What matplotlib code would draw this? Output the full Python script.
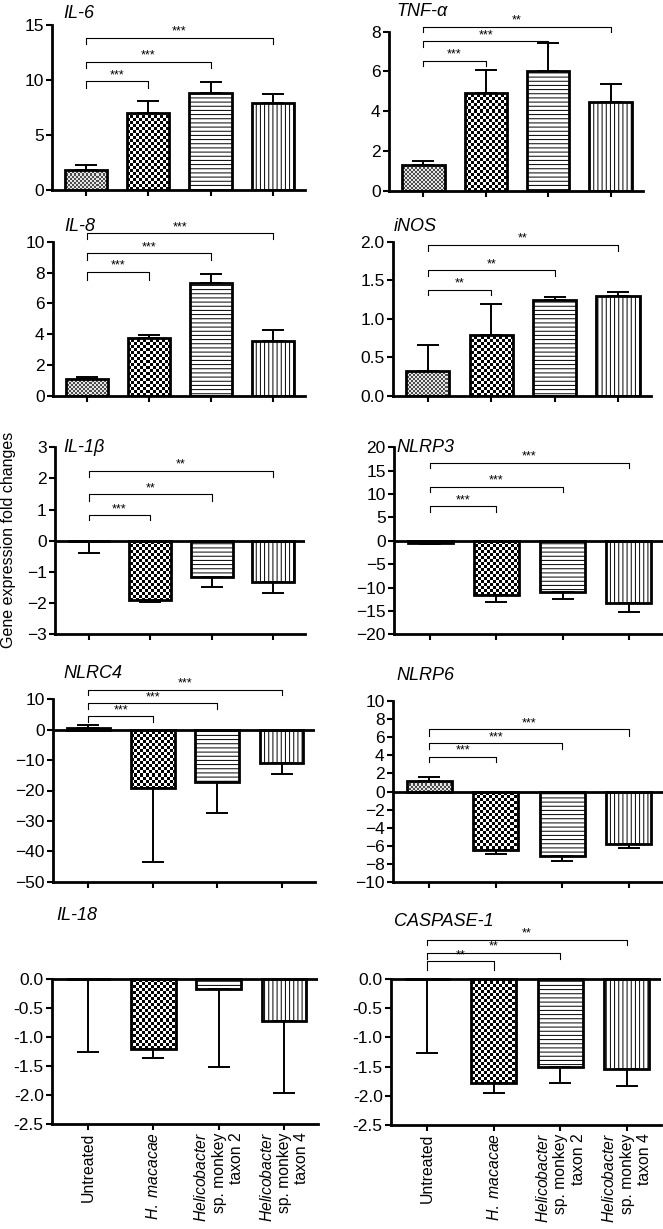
import numpy as np
import matplotlib
matplotlib.use('Agg')
from matplotlib import pyplot as plt
from matplotlib.ticker import FormatStrFormatter

plt.rcParams['font.family'] = ['Liberation Sans', 'DejaVu Sans']
plt.rcParams['mathtext.fontset'] = 'custom'
plt.rcParams['mathtext.it'] = 'Liberation Sans:italic'
plt.rcParams['mathtext.rm'] = 'Liberation Sans'
plt.rcParams['hatch.linewidth'] = 0.7

groups = ['Untreated',
          r'$\it{H.\ macacae}$',
          r'$\it{Helicobacter}$' + '\nsp. monkey\ntaxon 2',
          r'$\it{Helicobacter}$' + '\nsp. monkey\ntaxon 4']

genes = ['IL-6', 'TNF-α', 'IL-8', 'iNOS', 'IL-1β',
         'NLRP3', 'NLRC4', 'NLRP6', 'IL-18', 'CASPASE-1']

# bar means and the end of each (one-sided) error bar
il6 = [1.85, 7.0, 8.8, 7.95]
il6_err = [2.3, 8.05, 9.8, 8.7]
tnf = [1.3, 4.9, 6.03, 4.44]
tnf_err = [1.5, 6.07, 7.43, 5.38]
il8 = [1.1, 3.73, 7.35, 3.58]
il8_err = [1.22, 3.95, 7.9, 4.25]
inos = [0.32, 0.79, 1.24, 1.3]
inos_err = [0.66, 1.19, 1.28, 1.35]
il1b = [0.0, -1.9, -1.17, -1.33]
il1b_err = [-0.4, -1.95, -1.49, -1.69]
nlrp3 = [-0.4, -11.7, -10.9, -13.2]
nlrp3_err = [-0.6, -13.0, -12.4, -15.2]
nlrc4 = [0.4, -19.2, -17.3, -11.0]
nlrc4_err = [1.4, -43.6, -27.5, -14.7]
nlrp6 = [1.15, -6.45, -7.07, -5.8]
nlrp6_err = [1.63, -6.92, -7.62, -6.2]
il18 = [0.0, -1.21, -0.18, -0.72]
il18_err = [-1.26, -1.36, -1.52, -1.97]
casp1 = [0.0, -1.78, -1.51, -1.54]
casp1_err = [-1.26, -1.96, -1.78, -1.84]

means = [il6, tnf, il8, inos, il1b, nlrp3, nlrc4, nlrp6, il18, casp1]
err_ends = [il6_err, tnf_err, il8_err, inos_err, il1b_err,
            nlrp3_err, nlrc4_err, nlrp6_err, il18_err, casp1_err]

# significance vs untreated (for groups 1, 2, 3)
stars = [['***', '***', '***'], ['***', '***', '**'], ['***', '***', '***'],
         ['**', '**', '**'], ['***', '**', '**'], ['***', '***', '***'],
         ['***', '***', '***'], ['***', '***', '***'], [],
         ['**', '**', '**']]

# bracket (line y, leg y) per comparison
brackets = [
    [(9.9, 9.3), (11.67, 11.1), (13.85, 13.3)],
    [(6.53, 6.27), (7.52, 7.24), (8.24, 7.96)],
    [(8.06, 7.5), (9.25, 8.82), (10.54, 10.17)],
    [(1.38, 1.31), (1.63, 1.55), (1.96, 1.88)],
    [(0.82, 0.66), (1.49, 1.28), (2.25, 2.05)],
    [(7.4, 6.2), (11.55, 10.35), (16.7, 15.5)],
    [(4.5, 2.6), (8.7, 6.8), (13.1, 11.4)],
    [(3.83, 3.28), (5.3, 4.68), (6.84, 6.14)],
    [],
    [(0.30, 0.15), (0.45, 0.35), (0.67, 0.58)],
]

# layout in pixels: left, right, y px of ylo, y px of yhi, ylo, yhi, ylim top, tick step
W, H = 663, 1229
layout = [
    (52, 305, 190, 25, 0, 15, 15, 5),
    (389, 643, 190.7, 31.7, 0, 8, 8.6, 2),
    (53, 305, 396, 241.7, 0, 10, 10.8, 2),
    (393, 651, 396, 241.7, 0, 2, 2.05, 0.5),
    (55, 305, 634.3, 447.3, -3, 3, 3, 1),
    (394, 663, 634.3, 447.3, -20, 20, 20, 5),
    (53, 315, 881.7, 699.3, -50, 10, 15, 10),
    (393, 663, 882.3, 700.7, -10, 10, 10, 2),
    (52, 318, 1124, 979, -2.5, 0, 0.02, 0.5),
    (391, 661, 1125, 979, -2.5, 0, 0.85, 0.5),
]
title_pos = [(63, 13), (396, 12), (64, 226), (394, 226), (63, 448),
             (396, 448), (63, 673), (396, 675), (56, 915), (394, 921)]

xlim = (-0.55, 3.52)
bar_w = 0.68
x = np.arange(4)


def fill_checker(ax, bar, cell, lo, hi, w_px, h_px):
    x0, x1 = ax.get_xlim()
    y0, y1 = ax.get_ylim()
    nc = int(np.ceil(w_px / cell)) + 1
    nr = int(np.ceil(h_px / cell)) + 1
    board = (np.add.outer(np.arange(nr), np.arange(nc)) % 2) * (hi - lo) + lo
    ext = (x0, x0 + nc * cell * (x1 - x0) / w_px,
           y0, y0 + nr * cell * (y1 - y0) / h_px)
    im = ax.imshow(board, cmap='gray', vmin=0, vmax=1, extent=ext, origin='lower',
                   interpolation='nearest', aspect='auto', zorder=1)
    im.set_clip_path(bar)


fig = plt.figure(figsize=(W / 100, H / 100), dpi=100)

for k in range(10):
    left, right, px_lo, px_hi, ylo, yhi, ytop, step = layout[k]
    w_px = right - left
    h_px = (px_lo - px_hi) * (ytop - ylo) / (yhi - ylo)
    ax = fig.add_axes([left / W, 1 - px_lo / H, w_px / W, h_px / H])
    ax.set_xlim(*xlim)
    ax.set_ylim(ylo, ytop)

    vals = means[k]
    ends = err_ends[k]
    bars = ax.bar(x, vals, width=bar_w, facecolor='none', edgecolor='black',
                  linewidth=2.0, zorder=3)
    bars[2].set_hatch('----')
    bars[3].set_hatch('||||')
    fill_checker(ax, bars[0], 2, 0.3, 0.9, w_px, h_px)
    fill_checker(ax, bars[1], 3, 0.0, 1.0, w_px, h_px)
    ax.set_xlim(*xlim)
    ax.set_ylim(ylo, ytop)

    lower = [max(0, v - e) for v, e in zip(vals, ends)]
    upper = [max(0, e - v) for v, e in zip(vals, ends)]
    ax.errorbar(x, vals, yerr=[lower, upper], fmt='none', ecolor='black',
                elinewidth=1.4, capsize=8, capthick=1.4, zorder=2)

    if ylo < 0:
        ax.axhline(0, color='black', linewidth=2.0, zorder=4)

    for j, (lab, (yl, yg)) in enumerate(zip(stars[k], brackets[k]), start=1):
        ax.plot([0, 0, j, j], [yg, yl, yl, yg], color='black', linewidth=0.8,
                clip_on=False, zorder=5)
        ax.text(j / 2, yl, lab, ha='center', va='bottom', fontsize=9)

    for s in ['top', 'right']:
        ax.spines[s].set_visible(False)
    for s in ['left', 'bottom']:
        ax.spines[s].set_linewidth(2.0)
    ax.spines['left'].set_bounds(ylo, yhi)
    ax.set_yticks(np.arange(ylo, yhi + step / 2, step))
    if step < 1:
        ax.yaxis.set_major_formatter(FormatStrFormatter('%.1f'))
    ax.set_xticks(x)
    ax.tick_params(axis='both', direction='out', length=4, width=1.5,
                   labelsize=12.5, pad=2)
    if k >= 8:
        ax.set_xticklabels(groups, rotation=90, ha='center', va='top',
                           multialignment='right', fontsize=11.3)
    else:
        ax.set_xticklabels([])

    tx, ty = title_pos[k]
    fig.text(tx / W, 1 - ty / H, genes[k], style='italic', fontsize=13,
             ha='left', va='center')

fig.text(9 / W, 1 - 540 / H, 'Gene expression fold changes', rotation=90,
         ha='center', va='center', fontsize=11.5)

fig.savefig('out.png', dpi=100)
plt.close()
